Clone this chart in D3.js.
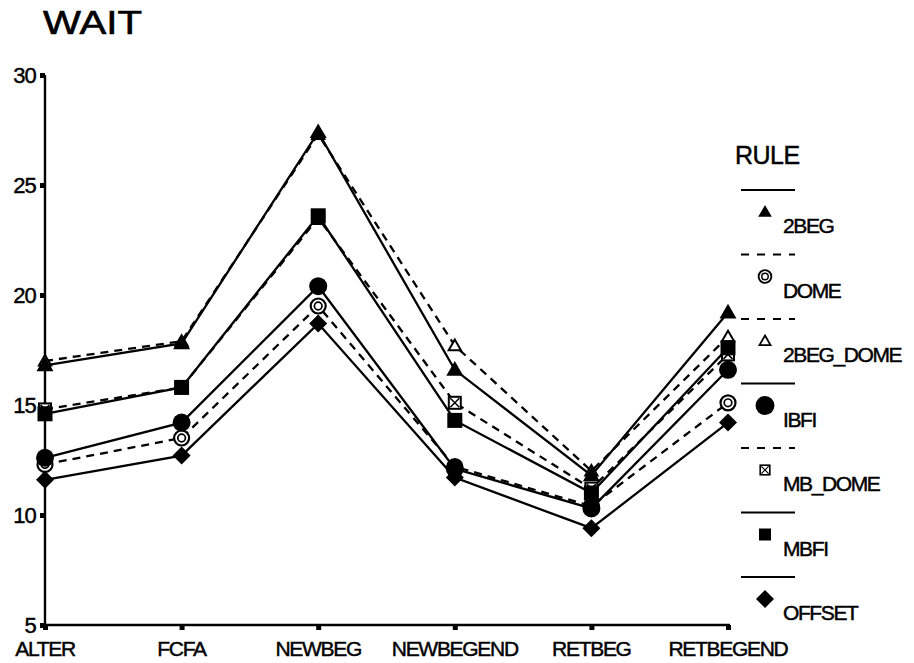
<!DOCTYPE html>
<html>
<head>
<meta charset="utf-8">
<script src="https://cdn.jsdelivr.net/npm/d3@7"></script>
<style>
  html, body { margin: 0; padding: 0; background: #fff; }
  svg { display: block; font-family: "Liberation Sans", Arial, Helvetica, sans-serif; }
  svg text { fill: #000; stroke: #000; stroke-width: 0.45px; }
</style>
</head>
<body>
<svg id="chart" width="914" height="663"></svg>
<script>
// Mean WAIT per scenario for each rule
const categories = ["ALTER", "FCFA", "NEWBEG", "NEWBEGEND", "RETBEG", "RETBEGEND"];
const ruleNames = ["2BEG", "DOME", "2BEG_DOME", "IBFI", "MB_DOME", "MBFI", "OFFSET"];
const wait2BEG     = [16.8, 17.8, 27.4, 16.6, 11.8, 19.2];
const waitDOME     = [12.3, 13.5, 19.5, 12.2, 10.4, 15.1];
const wait2BEGDOME = [17.0, 17.9, 27.3, 17.7, 12.0, 18.1];
const waitIBFI     = [12.6, 14.2, 20.4, 12.1, 10.3, 16.6];
const waitMBDOME   = [14.8, 15.8, 23.5, 15.1, 11.2, 17.3];
const waitMBFI     = [14.6, 15.8, 23.6, 14.3, 11.0, 17.6];
const waitOFFSET   = [11.6, 12.7, 18.7, 11.7, 9.4, 14.2];
const yTicks = [5, 10, 15, 20, 25, 30];

const seriesValues = [wait2BEG, waitDOME, wait2BEGDOME, waitIBFI, waitMBDOME, waitMBFI, waitOFFSET];
const dashed = { "DOME": true, "2BEG_DOME": true, "MB_DOME": true };

const svg = d3.select("#chart");
const x = d3.scalePoint().domain(categories).range([45, 728]);
const y = d3.scaleLinear().domain([5, 30]).range([625, 75]);

// Title
svg.append("text").attr("x", 43).attr("y", 34)
  .attr("font-size", 33).attr("textLength", 99).attr("lengthAdjust", "spacingAndGlyphs")
  .style("stroke-width", "0.6px")
  .text("WAIT");

// Axes
svg.append("line").attr("x1", 45).attr("x2", 45).attr("y1", y(5) + 1).attr("y2", y(30))
  .attr("stroke", "#000").attr("stroke-width", 2.4);
svg.append("line").attr("x1", 44).attr("x2", x(categories[categories.length - 1]) + 2)
  .attr("y1", y(5)).attr("y2", y(5)).attr("stroke", "#000").attr("stroke-width", 2.4);

const yAx = svg.append("g");
yTicks.forEach(t => {
  yAx.append("rect").attr("x", 40).attr("y", y(t) - 2).attr("width", 5).attr("height", 5).attr("fill", "#000");
  yAx.append("text").attr("x", 36).attr("y", y(t)).attr("dy", "0.36em")
    .attr("text-anchor", "end").attr("font-size", 22).attr("letter-spacing", -0.8).text(t);
});

const xAx = svg.append("g");
categories.forEach(c => {
  xAx.append("rect").attr("x", x(c) - 2).attr("y", y(5)).attr("width", 5).attr("height", 5).attr("fill", "#000");
  xAx.append("text").attr("x", x(c)).attr("y", 656)
    .attr("text-anchor", "middle").attr("font-size", 21).attr("letter-spacing", -1.3).text(c);
});

// Marker drawing for each rule
function drawMarker(g, rule, cx, cy, scale) {
  const s = scale || 1;
  const m = g.append("g").attr("transform", `translate(${cx},${cy}) scale(${s})`);
  if (rule === "2BEG") {
    m.append("path").attr("d", d3.symbol(d3.symbolTriangle, 125)()).attr("transform", "translate(0,1)").attr("fill", "#000");
  } else if (rule === "2BEG_DOME") {
    m.append("path").attr("d", d3.symbol(d3.symbolTriangle, 65)()).attr("transform", "translate(0,1)")
      .attr("fill", "#fff").attr("stroke", "#000").attr("stroke-width", 2);
  } else if (rule === "DOME") {
    m.append("circle").attr("r", 7.5).attr("fill", "#fff").attr("stroke", "#000").attr("stroke-width", 2.2);
    m.append("circle").attr("r", 3.8).attr("fill", "#fff").attr("stroke", "#000").attr("stroke-width", 1.7);
  } else if (rule === "IBFI") {
    m.append("circle").attr("r", 9).attr("fill", "#000");
  } else if (rule === "MB_DOME") {
    m.append("rect").attr("x", -6).attr("y", -6).attr("width", 12).attr("height", 12)
      .attr("fill", "#fff").attr("stroke", "#000").attr("stroke-width", 2);
    m.append("path").attr("d", "M-4.5,-4.5L4.5,4.5M4.5,-4.5L-4.5,4.5").attr("stroke", "#000").attr("stroke-width", 1.5);
  } else if (rule === "MBFI") {
    m.append("rect").attr("x", -7.5).attr("y", -7.5).attr("width", 15).attr("height", 15).attr("fill", "#000");
  } else if (rule === "OFFSET") {
    m.append("path").attr("d", "M0,-9L9,0L0,9L-9,0Z").attr("fill", "#000");
  }
}

// Lines
const line = d3.line().x((d, i) => x(categories[i])).y(d => y(d));
const lineG = svg.append("g");
ruleNames.forEach((r, k) => {
  lineG.append("path").datum(seriesValues[k]).attr("d", line)
    .attr("fill", "none").attr("stroke", "#000").attr("stroke-width", 2.3)
    .attr("stroke-dasharray", dashed[r] ? "8,6" : null);
});

// Markers (hollow rules first, solid ones on top)
const markerOrder = ["2BEG_DOME", "MB_DOME", "DOME", "OFFSET", "IBFI", "MBFI", "2BEG"];
const markG = svg.append("g");
markerOrder.forEach(r => {
  const vals = seriesValues[ruleNames.indexOf(r)];
  vals.forEach((v, i) => drawMarker(markG, r, x(categories[i]), y(v)));
});

// Legend
const leg = svg.append("g");
leg.append("text").attr("x", 735).attr("y", 164).attr("font-size", 25).attr("letter-spacing", -0.5).text("RULE");
const legendScale = { "2BEG": 0.8, "DOME": 0.85, "2BEG_DOME": 0.9, "IBFI": 1.05, "MB_DOME": 0.8, "MBFI": 0.8, "OFFSET": 1.0 };
ruleNames.forEach((r, k) => {
  const y0 = 190 + k * 64.5;
  leg.append("line").attr("x1", 741).attr("x2", 795).attr("y1", y0).attr("y2", y0)
    .attr("stroke", "#000").attr("stroke-width", 2)
    .attr("stroke-dasharray", dashed[r] ? "8,8" : null);
  drawMarker(leg, r, 765, y0 + 22, legendScale[r]);
  leg.append("text").attr("x", 783).attr("y", y0 + 43)
    .attr("font-size", 21).attr("letter-spacing", -1.4).text(r);
});
</script>
</body>
</html>
